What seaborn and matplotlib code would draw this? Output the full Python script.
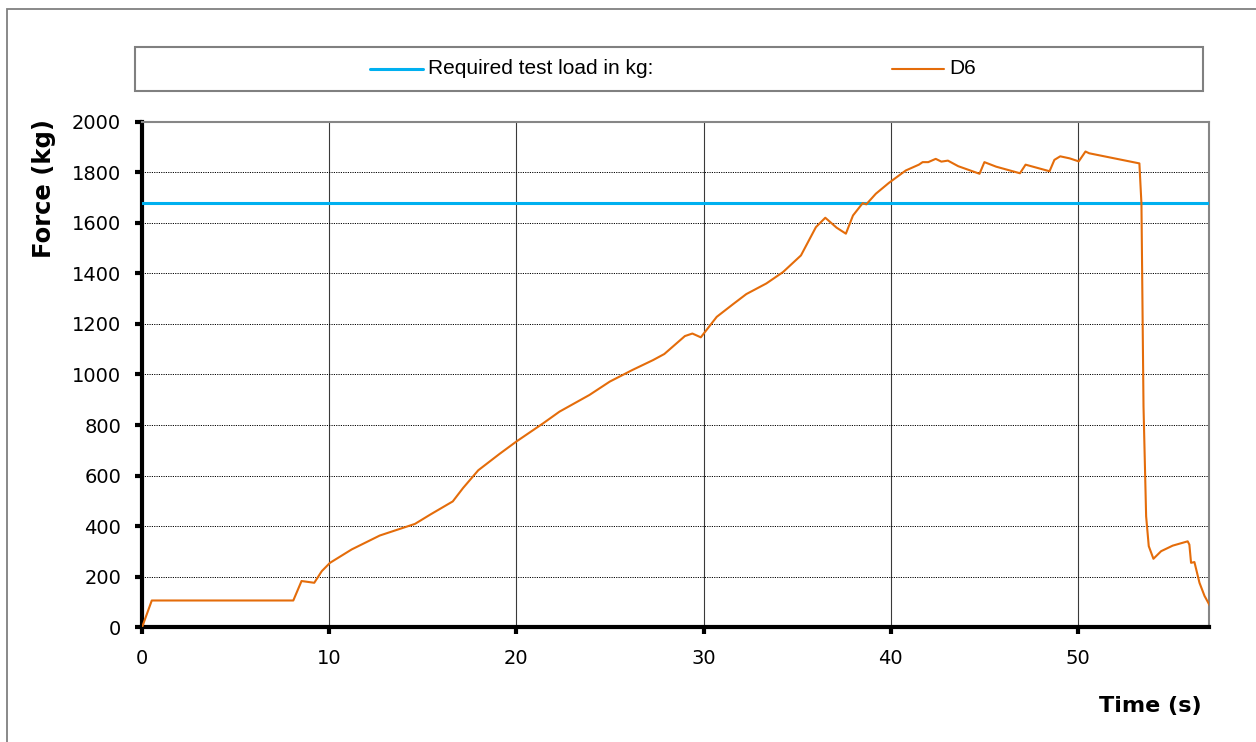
import numpy as np
import pandas as pd
import matplotlib
matplotlib.use("Agg")
import matplotlib.pyplot as plt
from matplotlib.patches import Rectangle
from matplotlib.lines import Line2D
import seaborn as sns

# ---- data ----
time_s = [0, 0.52, 8.08, 8.52, 9.2, 9.6, 10.04, 11.2, 12.7, 14.58, 15.4, 16.6, 17.15, 17.96,
          19.1, 20.0, 21.43, 22.3, 23.9, 24.99, 26.2, 27.3, 27.9, 29.0, 29.4, 29.85, 30.7, 31.57,
          32.28, 33.35, 34.24, 35.2, 36.0, 36.5, 37.1, 37.6, 37.98, 38.5, 38.69, 39.2, 39.9, 40.8,
          41.5, 41.7, 42.0, 42.4, 42.7, 43.05, 43.6, 44.74, 45.0, 45.63, 46.9, 47.2, 48.48, 48.74,
          49.05, 49.55, 50.04, 50.4, 50.6, 53.28, 53.39, 53.5, 53.64, 53.78, 54.03, 54.44, 55.06, 55.86,
          55.95, 56.04, 56.22, 56.49, 56.76, 57.1]
force_kg = [0, 106, 106, 183, 176, 222, 255, 308, 363, 409, 446, 498, 551, 621,
            686, 735, 807, 853, 919, 972, 1018, 1057, 1081, 1152, 1162, 1147, 1228, 1278,
            1318, 1360, 1405, 1471, 1583, 1620, 1581, 1557, 1629, 1678, 1673, 1715, 1758, 1807,
            1830, 1840, 1840, 1853, 1842, 1846, 1824, 1794, 1840, 1822, 1796, 1830, 1804, 1849,
            1863, 1855, 1843, 1882, 1875, 1835, 1675, 873, 439, 321, 271, 301, 323, 340,
            327, 255, 258, 176, 124, 78]
required_load = 1680
series_labels = ["Required test load in kg:", "D6"]
x_ticks = [0, 10, 20, 30, 40, 50]
y_ticks = list(range(0, 2001, 200))

BLUE = "#00B0F0"
ORANGE = "#E46C0A"

sns.set_style("white")
plt.rcParams["font.family"] = ["DejaVu Sans"]
plt.rcParams["text.color"] = "black"
plt.rcParams["axes.labelcolor"] = "black"

fig = plt.figure(figsize=(12.56, 7.42), dpi=100)
ax = fig.add_axes([0.1131, 0.1546, 0.8495, 0.6814])

df = pd.DataFrame({"Time (s)": time_s, "Force (kg)": force_kg})

ax.axhline(required_load, color=BLUE, lw=2.2, zorder=3)
sns.lineplot(data=df, x="Time (s)", y="Force (kg)", ax=ax, color=ORANGE, lw=1.5,
             estimator=None, sort=False, zorder=4)

ax.set_xlim(0, 57)
ax.set_ylim(0, 2000)
ax.set_xticks(x_ticks)
ax.set_yticks(y_ticks)

ax.xaxis.grid(True, color="#3a3a3a", lw=0.8, ls="-", zorder=1)
ax.yaxis.grid(True, color="#000000", lw=0.7, ls=(0, (1.2, 1.2)), zorder=1)
ax.set_axisbelow(True)

for s in ["left", "bottom"]:
    ax.spines[s].set_color("black")
    ax.spines[s].set_linewidth(3)
for s in ["top", "right"]:
    ax.spines[s].set_color("#868686")
    ax.spines[s].set_linewidth(1.5)

ax.tick_params(axis="both", which="major", direction="out", length=5.0, width=3,
               color="black", labelsize=14, labelcolor="black",
               bottom=True, left=True, top=False, right=False)
ax.tick_params(axis="y", pad=10)
ax.tick_params(axis="x", pad=10.5)

ax.set_xlabel("Time (s)", fontsize=16, fontweight="bold", ha="right", va="top", color="black")
ax.xaxis.set_label_coords(0.9934, -0.135)
ax.set_ylabel("Force (kg)", fontsize=17.5, fontweight="bold", ha="center", va="center", color="black")
ax.yaxis.set_label_coords(-0.0915, 0.867)

# figure border (only left/top visible in the reference)
fig.patches.append(Rectangle((7 / 1256, -0.1), 1.2, 1 - 9 / 742 + 0.1,
                             transform=fig.transFigure, fill=False,
                             edgecolor="#808080", lw=1.3, zorder=0))

# legend box
fig.patches.append(Rectangle((135.3 / 1256, 1 - 90.7 / 742), (1203.3 - 135.3) / 1256, 43.7 / 742,
                             transform=fig.transFigure, fill=False,
                             edgecolor="#808080", lw=1.5, zorder=5))
ly = 1 - 69 / 742
fig.lines.append(Line2D([370 / 1256, 423 / 1256], [ly, ly], transform=fig.transFigure,
                        color=BLUE, lw=2.2))
fig.text(428 / 1256, ly, series_labels[0], fontsize=15, va="center", ha="left", color="black",
         family=["Liberation Sans", "DejaVu Sans"])
fig.lines.append(Line2D([892 / 1256, 944 / 1256], [ly, ly], transform=fig.transFigure,
                        color=ORANGE, lw=1.5))
fig.text(949 / 1256, ly, series_labels[1], fontsize=15, va="center", ha="left", color="black",
         family=["Liberation Sans", "DejaVu Sans"])

fig.savefig("out.png", dpi=100, facecolor="white")
